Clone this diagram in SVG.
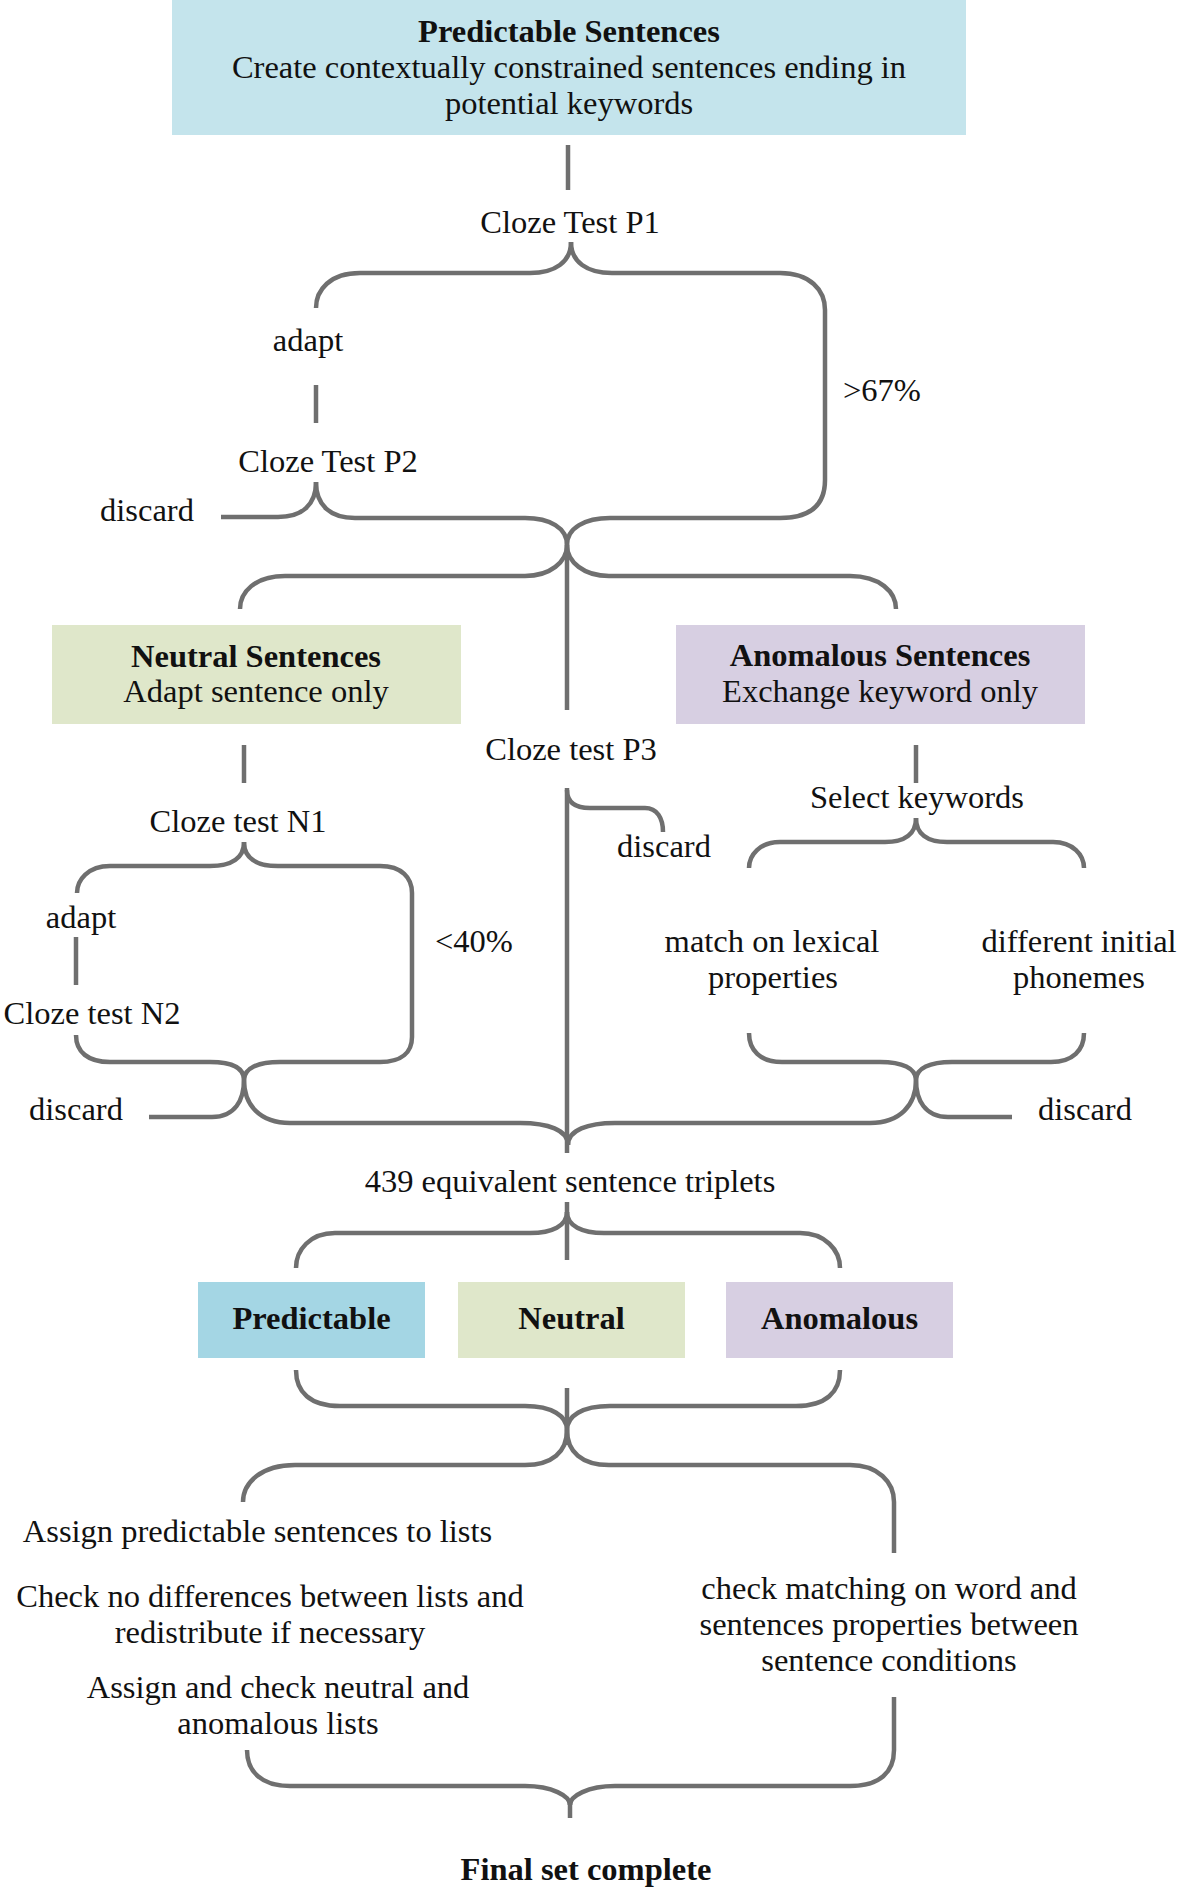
<svg xmlns="http://www.w3.org/2000/svg" width="1178" height="1890" viewBox="0 0 1178 1890">
<style>
text{font-family:"Liberation Serif","Times New Roman",serif;font-size:32.5px;fill:#111;text-anchor:middle}
.b{font-weight:bold}
.s{text-anchor:start}
.c path{fill:none;stroke:#6f6f6f;stroke-width:4.5}
.blue{fill:#c4e4ec}
.green{fill:#dfe7ca}
.purple{fill:#d7cfe2}
.pblue{fill:#a4d6e4}
</style>
<rect width="1178" height="1890" fill="#fff"/>
<g class="c" id="connectors">
<path d="M568,145 L568,190"/>
<path d="M571,242 C571,262 555,273 530,273 L360,273 C330,273 316,290 316,308"/>
<path d="M571,242 C571,262 587,273 612,273 L780,273 C810,273 825,290 825,310 L825,480 C825,505 810,518 780,518 L610,518 C585,518 567,528 567,545"/>
<path d="M316,385 L316,423"/>
<path d="M316,482 C316,505 302,517 278,517 L221,517"/>
<path d="M316,482 C316,505 330,518 355,518 L525,518 C550,518 567,528 567,545"/>
<path d="M567,545 C567,562 550,576 525,576 L285,576 C255,576 240,592 240,609"/>
<path d="M567,545 C567,562 584,576 609,576 L850,576 C880,576 896,592 896,609"/>
<path d="M567,545 L567,710"/>
<path d="M244,745 L244,783"/>
<path d="M244,842 C244,858 232,866 210,866 L110,866 C88,866 77,880 77,893"/>
<path d="M244,842 C244,858 256,866 278,866 L380,866 C402,866 412,878 412,893 L412,1037 C412,1052 402,1062 380,1062 L280,1062 C258,1062 244,1068 244,1080"/>
<path d="M76,937 L76,985"/>
<path d="M76,1035 C76,1052 88,1062 110,1062 L210,1062 C232,1062 244,1068 244,1080"/>
<path d="M244,1080 C244,1100 235,1117 212,1117 L149,1117"/>
<path d="M244,1080 C244,1105 260,1123 290,1123 L520,1123 C548,1123 568,1130 568,1145"/>
<path d="M567,788 L567,1153"/>
<path d="M567,790 C567,802 575,808 590,808 L645,808 C657,808 663,818 663,832"/>
<path d="M916,745 L916,783"/>
<path d="M916,818 C916,834 905,842 885,842 L780,842 C760,842 749,855 749,868"/>
<path d="M916,818 C916,834 927,842 947,842 L1053,842 C1073,842 1084,855 1084,868"/>
<path d="M749,1033 C749,1050 760,1062 782,1062 L880,1062 C902,1062 916,1068 916,1080"/>
<path d="M1084,1033 C1084,1050 1073,1062 1051,1062 L952,1062 C930,1062 916,1068 916,1080"/>
<path d="M916,1080 C916,1100 925,1117 948,1117 L1012,1117"/>
<path d="M916,1080 C916,1105 900,1123 870,1123 L615,1123 C588,1123 568,1130 568,1145"/>
<path d="M567,1202 L567,1260"/>
<path d="M567,1212 C567,1226 552,1233 530,1233 L335,1233 C310,1233 296,1250 296,1268"/>
<path d="M567,1212 C567,1226 582,1233 604,1233 L800,1233 C825,1233 840,1250 840,1268"/>
<path d="M296,1370 C296,1392 310,1406 340,1406 L525,1406 C552,1406 567,1416 567,1430"/>
<path d="M840,1370 C840,1392 826,1406 796,1406 L610,1406 C582,1406 567,1416 567,1430"/>
<path d="M567,1388 L567,1445"/>
<path d="M567,1430 C567,1452 552,1465 525,1465 L295,1465 C262,1465 243,1482 243,1502"/>
<path d="M567,1430 C567,1452 582,1465 609,1465 L850,1465 C878,1465 894,1482 894,1502 L894,1553"/>
<path d="M894,1697 L894,1750 C894,1772 880,1786 850,1786 L615,1786 C588,1786 570,1796 570,1805"/>
<path d="M247,1750 C247,1772 262,1786 290,1786 L525,1786 C552,1786 570,1796 570,1805"/>
<path d="M570,1800 L570,1818"/>
</g>
<g id="node-predictable-sentences">
<rect class="blue" x="172" y="0" width="794" height="135"/>
<text class="b" x="569" y="42">Predictable Sentences</text>
<text x="569" y="78">Create contextually constrained sentences ending in</text>
<text x="569" y="114">potential keywords</text>
</g>
<g id="node-cloze-p1"><text x="570" y="233">Cloze Test P1</text></g>
<g id="node-adapt-p"><text x="308" y="351">adapt</text></g>
<g id="node-cloze-p2"><text x="328" y="472">Cloze Test P2</text></g>
<g id="node-discard-p2"><text x="147" y="521">discard</text></g>
<g id="node-67"><text class="s" x="843" y="401">&gt;67%</text></g>
<g id="node-neutral-sentences">
<rect class="green" x="52" y="625" width="409" height="99"/>
<text class="b" x="256" y="667">Neutral Sentences</text>
<text x="256" y="702">Adapt sentence only</text>
</g>
<g id="node-anomalous-sentences">
<rect class="purple" x="676" y="625" width="409" height="99"/>
<text class="b" x="880" y="666">Anomalous Sentences</text>
<text x="880" y="702">Exchange keyword only</text>
</g>
<g id="node-cloze-p3"><text x="571" y="760">Cloze test P3</text></g>
<g id="node-discard-p3"><text x="664" y="857">discard</text></g>
<g id="node-select"><text x="917" y="808">Select keywords</text></g>
<g id="node-cloze-n1"><text x="238" y="832">Cloze test N1</text></g>
<g id="node-adapt-n"><text x="81" y="928">adapt</text></g>
<g id="node-40"><text class="s" x="435" y="952">&lt;40%</text></g>
<g id="node-cloze-n2"><text x="92" y="1024">Cloze test N2</text></g>
<g id="node-match"><text x="772" y="952">match on lexical</text><text x="773" y="988">properties</text></g>
<g id="node-different"><text x="1079" y="952">different initial</text><text x="1079" y="988">phonemes</text></g>
<g id="node-discard-n"><text x="76" y="1120">discard</text></g>
<g id="node-discard-a"><text x="1085" y="1120">discard</text></g>
<g id="node-439"><text x="570" y="1192">439 equivalent sentence triplets</text></g>
<g id="node-predictable"><rect class="pblue" x="198" y="1282" width="227" height="76"/><text class="b" x="311.5" y="1329">Predictable</text></g>
<g id="node-neutral"><rect class="green" x="458" y="1282" width="227" height="76"/><text class="b" x="571.5" y="1329">Neutral</text></g>
<g id="node-anomalous"><rect class="purple" x="726" y="1282" width="227" height="76"/><text class="b" x="839.5" y="1329">Anomalous</text></g>
<g id="node-assign-pred"><text x="257.5" y="1542">Assign predictable sentences to lists</text></g>
<g id="node-check-diff"><text x="270" y="1607">Check no differences between lists and</text><text x="270" y="1643">redistribute if necessary</text></g>
<g id="node-assign-neu"><text x="278" y="1698">Assign and check neutral and</text><text x="278" y="1734">anomalous lists</text></g>
<g id="node-check-match"><text x="889" y="1599">check matching on word and</text><text x="889" y="1635">sentences properties between</text><text x="889" y="1671">sentence conditions</text></g>
<g id="node-final"><text class="b" x="586" y="1880">Final set complete</text></g>
</svg>
